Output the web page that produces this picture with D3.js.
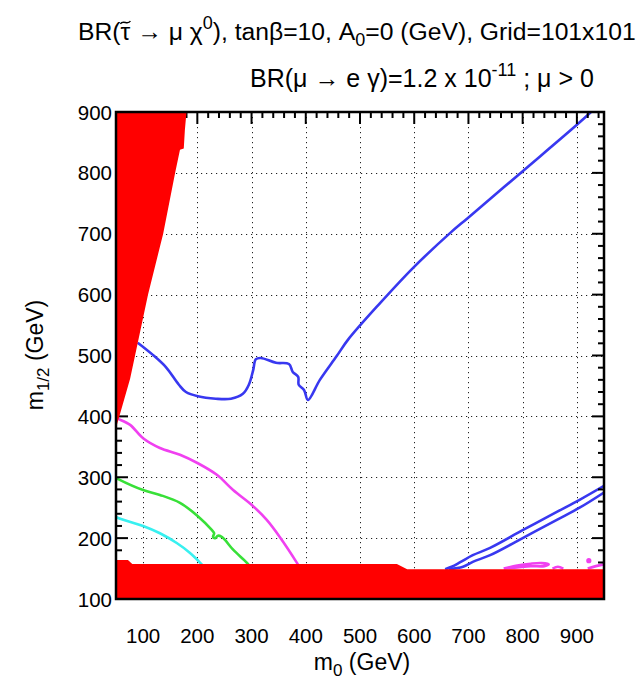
<!DOCTYPE html>
<html>
<head>
<meta charset="utf-8">
<script src="https://cdn.jsdelivr.net/npm/d3@7"></script>
<style>
  body { margin: 0; background: #fff; }
  svg { font-family: "Liberation Sans", Arial, sans-serif; }
</style>
</head>
<body>
<div id="chart"></div>
<script>
// tick values
var xTicks = [100, 200, 300, 400, 500, 600, 700, 800, 900];
var yTicks = [100, 200, 300, 400, 500, 600, 700, 800, 900];

// excluded regions (m0, m1/2)
var redWedge = [[50, 381], [76, 462], [109, 600], [137, 700], [159, 800], [168, 838],
  [175, 840], [177, 870], [180, 900], [50, 900]];
var redBand = [[50, 100], [50, 164], [72, 164], [80, 157.5], [568, 157.5], [587, 149],
  [950, 149], [950, 100]];

// contours
var blueMain = [[90, 521], [118, 501], [142, 481], [166, 452], [179, 440], [201, 433],
  [234, 429], [262, 429], [284, 437], [295, 452], [303, 476], [308, 494], [317, 496],
  [345, 488], [369, 486], [376, 473], [386, 465], [387, 452], [397, 443], [404, 427],
  [426, 460], [457, 499], [478, 526], [537, 586], [598, 644], [666, 701], [699, 726],
  [799, 802], [900, 879], [926, 900]];
var blueUpper = [[657, 149], [669, 153], [684, 160], [708, 172], [740, 184], [800, 213],
  [863, 243], [905, 263], [950, 286]];
var blueLower = [[664, 149], [690, 153], [708, 161], [740, 172], [800, 200], [863, 230],
  [905, 250], [950, 275]];
var magentaMain = [[50, 398], [54, 396], [76, 386], [100, 364], [131, 348], [168, 337],
  [201, 323], [236, 304], [266, 279], [301, 254], [328, 230], [352, 202], [384, 159], [390, 150]];
var magentaLoop = [[765, 150], [790, 155], [815, 158], [835, 159], [848, 157], [840, 154],
  [815, 154], [790, 152], [765, 150]];
var magentaArc = [[855, 150], [865, 153], [875, 150]];
var magentaEdge = [[920, 150], [935, 154], [950, 157]];
var magentaDot = [[922, 163]];
var greenCurve = [[50, 299], [54, 297], [100, 279], [131, 271], [168, 258], [201, 236],
  [227, 213], [231, 208], [229, 202], [233, 200], [238, 204], [245, 202], [251, 197],
  [266, 181], [292, 159], [300, 150]];
var cyanCurve = [[50, 235], [54, 233], [100, 220], [131, 208], [162, 192], [186, 176],
  [208, 157], [215, 150]];

var width = 642, height = 684;
var svg = d3.select("#chart").append("svg")
  .attr("width", width).attr("height", height);

var x = d3.scaleLinear().domain([50, 950]).range([116, 604]);
var y = d3.scaleLinear().domain([100, 900]).range([599, 112]);

svg.append("clipPath").attr("id", "clip").append("rect")
  .attr("x", 116).attr("y", 112).attr("width", 488).attr("height", 487);

// grid
var grid = svg.append("g").attr("stroke", "#222").attr("stroke-width", 1)
  .attr("stroke-dasharray", "1.2,3.8");
grid.selectAll(".gx").data(xTicks).enter().append("line")
  .attr("x1", function(d) { return Math.round(x(d)) + 0.5; })
  .attr("x2", function(d) { return Math.round(x(d)) + 0.5; })
  .attr("y1", y(900)).attr("y2", y(100));
grid.selectAll(".gy").data(yTicks).enter().append("line")
  .attr("y1", function(d) { return Math.round(y(d)) + 0.5; })
  .attr("y2", function(d) { return Math.round(y(d)) + 0.5; })
  .attr("x1", x(50)).attr("x2", x(950));

// contour lines
var line = d3.line().x(function(d) { return x(d[0]); }).y(function(d) { return y(d[1]); })
  .curve(d3.curveCatmullRom.alpha(0.5));
var curves = svg.append("g").attr("clip-path", "url(#clip)")
  .attr("fill", "none").attr("stroke-width", 2.6).attr("stroke-linejoin", "round");
[
  [blueMain, "#3838f0"], [blueUpper, "#3838f0"], [blueLower, "#3838f0"],
  [magentaMain, "#f040f0"], [magentaLoop, "#f040f0"], [magentaArc, "#f040f0"],
  [magentaEdge, "#f040f0"], [greenCurve, "#38e038"], [cyanCurve, "#38f0f0"]
].forEach(function(c) {
  curves.append("path").attr("d", line(c[0])).attr("stroke", c[1]);
});
curves.selectAll(".dot").data(magentaDot).enter().append("circle")
  .attr("cx", function(d) { return x(d[0]); }).attr("cy", function(d) { return y(d[1]); })
  .attr("r", 2.6).attr("fill", "#f040f0");

// ticks (inward, on all four sides)
var xMinor = d3.range(60, 950, 20).filter(function(v) { return v % 100 !== 0; });
var yMinor = d3.range(120, 900, 20).filter(function(v) { return v % 100 !== 0; });
var ticks = svg.append("g").attr("stroke", "#000").attr("stroke-width", 2);
function xTick(vals, len) {
  vals.forEach(function(v) {
    ticks.append("line").attr("x1", x(v)).attr("x2", x(v)).attr("y1", y(100)).attr("y2", y(100) - len);
    ticks.append("line").attr("x1", x(v)).attr("x2", x(v)).attr("y1", y(900)).attr("y2", y(900) + len);
  });
}
function yTick(vals, len) {
  vals.forEach(function(v) {
    ticks.append("line").attr("y1", y(v)).attr("y2", y(v)).attr("x1", x(50)).attr("x2", x(50) + len);
    ticks.append("line").attr("y1", y(v)).attr("y2", y(v)).attr("x1", x(950)).attr("x2", x(950) - len);
  });
}
xTick(xTicks, 12); xTick(xMinor, 6);
yTick(yTicks, 12); yTick(yMinor, 6);

// excluded regions
var area = d3.line().x(function(d) { return x(d[0]); }).y(function(d) { return y(d[1]); });
svg.append("path").attr("d", area(redWedge) + "Z").attr("fill", "#ff0000");
svg.append("path").attr("d", area(redBand) + "Z").attr("fill", "#ff0000");

// frame
svg.append("rect").attr("x", 116).attr("y", 112).attr("width", 488).attr("height", 487)
  .attr("fill", "none").attr("stroke", "#000").attr("stroke-width", 2.5);

// tick labels
svg.append("g").selectAll("text").data(xTicks).enter().append("text")
  .attr("x", function(d) { return x(d); }).attr("y", 643)
  .attr("text-anchor", "middle").attr("font-size", 20.5).text(function(d) { return d; });
svg.append("g").selectAll("text").data(yTicks).enter().append("text")
  .attr("x", 112).attr("y", function(d) { return y(d) + 7.5; })
  .attr("text-anchor", "end").attr("font-size", 20.5).text(function(d) { return d; });

// axis titles
var xl = svg.append("text").attr("x", 362).attr("y", 670).attr("text-anchor", "middle")
  .attr("font-size", 23);
xl.append("tspan").text("m");
xl.append("tspan").attr("font-size", 17).attr("dy", 6).text("0");
xl.append("tspan").attr("dy", -6).text(" (GeV)");

var yl = svg.append("text").attr("transform", "translate(43,355) rotate(-90)")
  .attr("text-anchor", "middle").attr("font-size", 23);
yl.append("tspan").text("m");
yl.append("tspan").attr("font-size", 17).attr("dy", 6).text("1/2");
yl.append("tspan").attr("dy", -6).text(" (GeV)");

// titles
var t1 = svg.append("text").attr("x", 78).attr("y", 40).attr("font-size", 24.7);
t1.append("tspan").text("BR(\u03c4 \u2192 \u03bc \u03c7");
t1.append("tspan").attr("font-size", 18).attr("dy", -11).text("0");
t1.append("tspan").attr("dy", 11).text("), tan\u03b2=10, A");
t1.append("tspan").attr("font-size", 18).attr("dy", 6).text("0");
t1.append("tspan").attr("dy", -6).text("=0 (GeV), Grid=101x101");

// tilde over the tau, drawn as a small wave
var tauL = t1.node().getStartPositionOfChar(3).x,
  tauR = t1.node().getEndPositionOfChar(3).x,
  tc = (tauL + tauR) / 2;
svg.append("path")
  .attr("d", "M" + (tc - 5) + ",24 C" + (tc - 2.5) + ",19.5 " + (tc + 2.5) + ",25.5 " + (tc + 5) + ",21")
  .attr("fill", "none").attr("stroke", "#000").attr("stroke-width", 1.4);

var t2 = svg.append("text").attr("x", 250).attr("y", 87).attr("font-size", 25);
t2.append("tspan").text("BR(\u03bc \u2192 e \u03b3)=1.2 x 10");
t2.append("tspan").attr("font-size", 18).attr("dy", -11).text("-11");
t2.append("tspan").attr("dy", 11).text(" ; \u03bc > 0");
</script>
</body>
</html>
